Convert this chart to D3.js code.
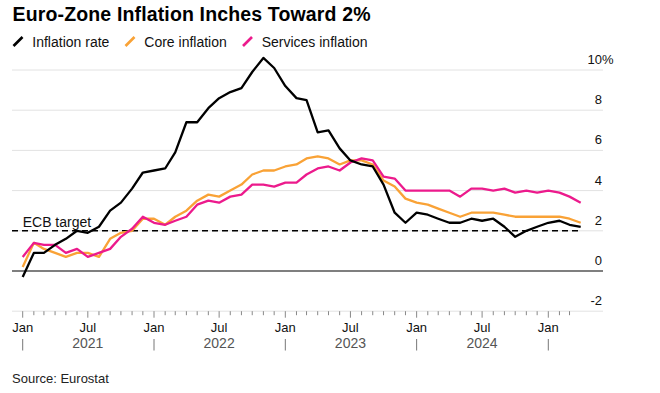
<!DOCTYPE html>
<html>
<head>
<meta charset="utf-8">
<script src="https://cdn.jsdelivr.net/npm/d3@7"></script>
<style>
  html, body { margin: 0; padding: 0; background: #fff; }
  svg { display: block; font-family: "Liberation Sans", Arial, sans-serif; }
</style>
</head>
<body>
<svg id="chart" width="660" height="393"></svg>
<script>
// ---- Data (monthly, Dec 2020 .. Mar 2025), % y/y ----
const startMonth = [2020, 11]; // Dec 2020 (year, zero-based month)
const inflationRate = [
  -0.3,
  0.9, 0.9, 1.3, 1.6, 2.0, 1.9, 2.2, 3.0, 3.4, 4.1, 4.9, 5.0,
  5.1, 5.9, 7.4, 7.4, 8.1, 8.6, 8.9, 9.1, 9.9, 10.6, 10.1, 9.2,
  8.6, 8.5, 6.9, 7.0, 6.1, 5.5, 5.3, 5.2, 4.3, 2.9, 2.4, 2.9,
  2.8, 2.6, 2.4, 2.4, 2.6, 2.5, 2.6, 2.2, 1.7, 2.0, 2.2, 2.4,
  2.5, 2.3, 2.2
];
const coreInflation = [
  0.2,
  1.4, 1.1, 0.9, 0.7, 0.9, 0.9, 0.7, 1.6, 1.9, 2.0, 2.6, 2.6,
  2.3, 2.7, 3.0, 3.5, 3.8, 3.7, 4.0, 4.3, 4.8, 5.0, 5.0, 5.2,
  5.3, 5.6, 5.7, 5.6, 5.3, 5.5, 5.5, 5.3, 4.5, 4.2, 3.6, 3.4,
  3.3, 3.1, 2.9, 2.7, 2.9, 2.9, 2.9, 2.8, 2.7, 2.7, 2.7, 2.7,
  2.7, 2.6, 2.4
];
const servicesInflation = [
  0.7,
  1.4, 1.3, 1.3, 0.9, 1.1, 0.7, 0.9, 1.1, 1.7, 2.1, 2.7, 2.4,
  2.3, 2.5, 2.7, 3.3, 3.5, 3.4, 3.7, 3.8, 4.3, 4.3, 4.2, 4.4,
  4.4, 4.8, 5.1, 5.2, 5.0, 5.4, 5.6, 5.5, 4.7, 4.6, 4.0, 4.0,
  4.0, 4.0, 4.0, 3.7, 4.1, 4.1, 4.0, 4.1, 3.9, 4.0, 3.9, 4.0,
  3.9, 3.7, 3.4
];
const seriesNames = ["Inflation rate", "Core inflation", "Services inflation"];
const seriesColors = ["#000000", "#f9a236", "#ec1a8c"];
const yTicks = [-2, 0, 2, 4, 6, 8, 10];
const yearLabels = ["2021", "2022", "2023", "2024"];
const ecbTarget = 2;

// ---- Layout ----
const svg = d3.select("#chart");
const left = 12, right = 603;
const x = d3.scaleTime()
  .domain([new Date(2021, 0, 1), new Date(2025, 0, 1)])
  .range([22.7, 548.3]);
const y = d3.scaleLinear().domain([-2, 10]).range([311.2, 70]);

// each monthly value plotted at the end of its month
const dates = inflationRate.map((_, i) => new Date(startMonth[0], startMonth[1] + i + 1, 1));

// Title
svg.append("text").attr("x", 12.5).attr("y", 21)
  .attr("font-size", 19.5).attr("font-weight", "bold").attr("fill", "#000")
  .attr("textLength", 358).attr("lengthAdjust", "spacing")
  .text("Euro-Zone Inflation Inches Toward 2%");

// Legend
const legendX = [[13.5, 32.3], [125.5, 144.3], [243, 261.7]];
seriesNames.forEach((name, i) => {
  const [ix, tx] = legendX[i];
  svg.append("line")
    .attr("x1", ix).attr("y1", 46).attr("x2", ix + 9).attr("y2", 37)
    .attr("stroke", seriesColors[i]).attr("stroke-width", 2.6).attr("stroke-linecap", "butt");
  svg.append("text").attr("x", tx).attr("y", 46.5)
    .attr("font-size", 14).attr("fill", "#111").text(name);
});

// Gridlines
yTicks.forEach(t => {
  svg.append("line")
    .attr("x1", left).attr("x2", right)
    .attr("y1", y(t)).attr("y2", y(t))
    .attr("stroke", t === 0 ? "#555" : "#e2e2e2")
    .attr("stroke-width", t === 0 ? 1.3 : 1);
});

// Y labels (right side, above gridlines)
yTicks.forEach(t => {
  svg.append("text").attr("x", 602).attr("y", y(t) - 6)
    .attr("text-anchor", "end").attr("font-size", 13).attr("fill", "#111")
    .text(t);
  if (t === 10) {
    svg.append("text").attr("x", 602).attr("y", y(t) - 6)
      .attr("font-size", 13).attr("fill", "#111").text("%");
  }
});

// X axis ticks (monthly)
const tickMonths = d3.timeMonth.range(new Date(2021, 0, 1), dates[dates.length - 1]);
tickMonths.forEach(d => {
  const major = d.getMonth() === 0 || d.getMonth() === 6;
  svg.append("line")
    .attr("x1", x(d)).attr("x2", x(d))
    .attr("y1", y(-2)).attr("y2", y(-2) + (major ? 6.5 : 4))
    .attr("stroke", "#888").attr("stroke-width", 1);
});
const majorMonths = tickMonths.filter(d => d.getMonth() === 0 || d.getMonth() === 6);
majorMonths.forEach(d => {
  svg.append("text").attr("x", x(d)).attr("y", 332)
    .attr("text-anchor", "middle").attr("font-size", 13).attr("fill", "#111")
    .text(d.getMonth() === 0 ? "Jan" : "Jul");
});
// Year separators and labels
tickMonths.filter(d => d.getMonth() === 0).forEach(d => {
  svg.append("line")
    .attr("x1", x(d)).attr("x2", x(d)).attr("y1", 339).attr("y2", 350.5)
    .attr("stroke", "#777").attr("stroke-width", 1);
});
yearLabels.forEach(yr => {
  svg.append("text").attr("x", x(new Date(+yr, 6, 1))).attr("y", 348)
    .attr("text-anchor", "middle").attr("font-size", 14).attr("fill", "#555")
    .text(yr);
});

// ECB target
svg.append("line")
  .attr("x1", left).attr("x2", x(dates[dates.length - 1]))
  .attr("y1", y(ecbTarget)).attr("y2", y(ecbTarget))
  .attr("stroke", "#000").attr("stroke-width", 1.6).attr("stroke-dasharray", "6,4");
svg.append("text").attr("x", 22.7).attr("y", 226.5)
  .attr("font-size", 14).attr("fill", "#111").text("ECB target");

// Lines
const line = d3.line().x((d, i) => x(dates[i])).y(d => y(d));
[coreInflation, servicesInflation, inflationRate].forEach((s, k) => {
  const color = [seriesColors[1], seriesColors[2], seriesColors[0]][k];
  svg.append("path").datum(s)
    .attr("d", line).attr("fill", "none")
    .attr("stroke", color).attr("stroke-width", 2.3)
    .attr("stroke-linejoin", "round");
});

// Source
svg.append("text").attr("x", 12).attr("y", 383)
  .attr("font-size", 13).attr("fill", "#222").text("Source: Eurostat");
</script>
</body>
</html>
